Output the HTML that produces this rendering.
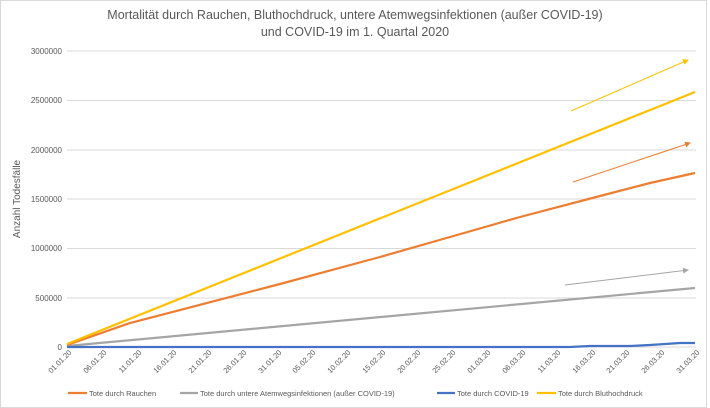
<!DOCTYPE html>
<html><head><meta charset="utf-8"><style>
body{margin:0;background:#fff;}
svg{display:block;font-family:"Liberation Sans",sans-serif;}
</style></head><body>
<svg width="710" height="408" viewBox="0 0 710 408">
<rect x="0.5" y="0.5" width="706" height="407" fill="#fff" stroke="#d9d9d9"/>
<text x="355" y="19" font-size="12.5" fill="#595959" text-anchor="middle">Mortalität durch Rauchen, Bluthochdruck, untere Atemwegsinfektionen (außer COVID-19)</text>
<text x="355" y="36" font-size="12.5" fill="#595959" text-anchor="middle">und COVID-19 im 1. Quartal 2020</text>
<g stroke="#d9d9d9" stroke-width="1">
<line x1="67" x2="696" y1="51" y2="51"/><line x1="67" x2="696" y1="100.5" y2="100.5"/>
<line x1="67" x2="696" y1="150" y2="150"/><line x1="67" x2="696" y1="199" y2="199"/>
<line x1="67" x2="696" y1="248.5" y2="248.5"/><line x1="67" x2="696" y1="298" y2="298"/>
<line x1="67" x2="696" y1="347" y2="347"/>
</g>
<g font-size="8" fill="#595959" text-anchor="end">
<text x="62" y="54">3000000</text><text x="62" y="103">2500000</text><text x="62" y="153">2000000</text>
<text x="62" y="202">1500000</text><text x="62" y="251">1000000</text><text x="62" y="301">500000</text><text x="62" y="350">0</text>
</g>
<text transform="translate(20,199) rotate(-90)" font-size="10" fill="#595959" text-anchor="middle">Anzahl Todesfälle</text>
<g font-size="7.5" fill="#595959" text-anchor="end">
<text transform="translate(72,353) rotate(-45)">01.01.20</text>
<text transform="translate(107,353) rotate(-45)">06.01.20</text>
<text transform="translate(142,353) rotate(-45)">11.01.20</text>
<text transform="translate(177,353) rotate(-45)">16.01.20</text>
<text transform="translate(212,353) rotate(-45)">21.01.20</text>
<text transform="translate(247,353) rotate(-45)">26.01.20</text>
<text transform="translate(282,353) rotate(-45)">31.01.20</text>
<text transform="translate(316,353) rotate(-45)">05.02.20</text>
<text transform="translate(351,353) rotate(-45)">10.02.20</text>
<text transform="translate(386,353) rotate(-45)">15.02.20</text>
<text transform="translate(421,353) rotate(-45)">20.02.20</text>
<text transform="translate(456,353) rotate(-45)">25.02.20</text>
<text transform="translate(491,353) rotate(-45)">01.03.20</text>
<text transform="translate(526,353) rotate(-45)">06.03.20</text>
<text transform="translate(561,353) rotate(-45)">11.03.20</text>
<text transform="translate(596,353) rotate(-45)">16.03.20</text>
<text transform="translate(630,353) rotate(-45)">21.03.20</text>
<text transform="translate(665,353) rotate(-45)">26.03.20</text>
<text transform="translate(700,353) rotate(-45)">31.03.20</text>
</g>
<g fill="none" stroke-width="2.2">
<polyline stroke="#a5a5a5" points="67,346 695,288"/>
<polyline stroke="#4472c4" points="67,347 570,347 590,346 630,346 650,345 665,344 680,343 695,343"/>
<polyline stroke="#ed7d31" points="67,345 130,323 280,284 380,257 450,237 520,217 600,196 650,183 695,173"/>
<polyline stroke="#ffc000" points="67,344 695,92"/>
</g>
<defs>
<marker id="ay" markerWidth="6" markerHeight="6" refX="5" refY="3" orient="auto"><path d="M0,0L6,3L0,6z" fill="#ffc000"/></marker>
<marker id="ao" markerWidth="6" markerHeight="6" refX="5" refY="3" orient="auto"><path d="M0,0L6,3L0,6z" fill="#ed7d31"/></marker>
<marker id="ag" markerWidth="6" markerHeight="6" refX="5" refY="3" orient="auto"><path d="M0,0L6,3L0,6z" fill="#a5a5a5"/></marker>
</defs>
<line x1="571" y1="111" x2="688" y2="60" stroke="#ffc000" stroke-width="1" marker-end="url(#ay)"/>
<line x1="573" y1="182" x2="690" y2="143" stroke="#ed7d31" stroke-width="1" marker-end="url(#ao)"/>
<line x1="565" y1="285" x2="688" y2="270" stroke="#a5a5a5" stroke-width="1" marker-end="url(#ag)"/>
<g font-size="7.5" fill="#595959">
<line x1="68" x2="87" y1="393" y2="393" stroke="#ed7d31" stroke-width="2.2"/><text x="89" y="396">Tote durch Rauchen</text>
<line x1="180" x2="198" y1="393" y2="393" stroke="#a5a5a5" stroke-width="2.2"/><text x="200" y="396">Tote durch untere Atemwegsinfektionen (außer COVID-19)</text>
<line x1="437" x2="455" y1="393" y2="393" stroke="#4472c4" stroke-width="2.2"/><text x="457" y="396">Tote durch COVID-19</text>
<line x1="537" x2="556" y1="393" y2="393" stroke="#ffc000" stroke-width="2.2"/><text x="558" y="396">Tote durch Bluthochdruck</text>
</g>
</svg>
</body></html>
